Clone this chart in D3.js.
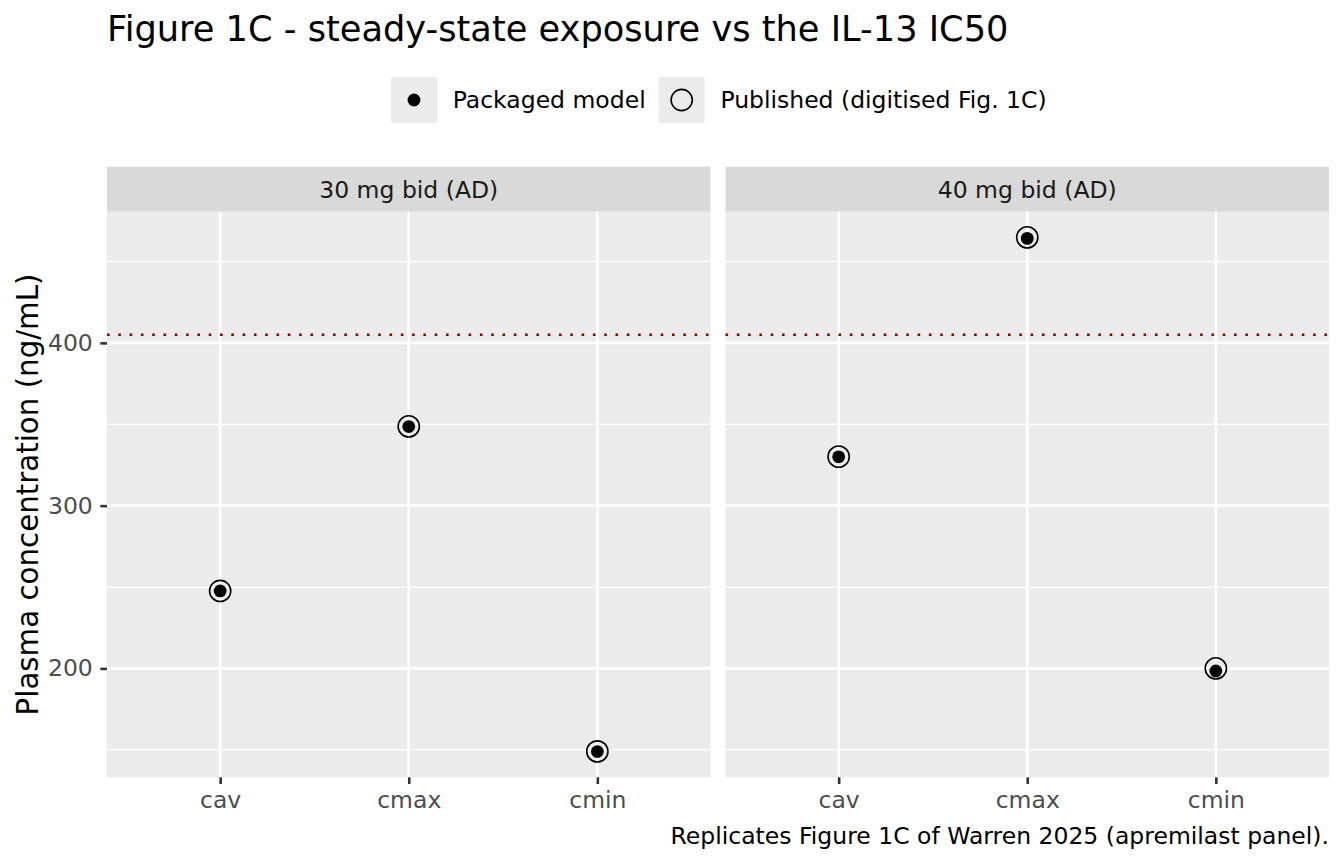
<!DOCTYPE html>
<html>
<head>
<meta charset="utf-8">
<script src="https://cdn.jsdelivr.net/npm/d3@7"></script>
<style>
  body { margin: 0; background: #fff; }
  text { font-family: "DejaVu Sans", sans-serif; }
</style>
</head>
<body>
<svg width="1344" height="864"></svg>
<script>
// Data
const metrics = ["cav", "cmax", "cmin"];
const regimens = ["30 mg bid (AD)", "40 mg bid (AD)"];
const packaged30 = [247.6, 348.6, 148.9];
const packaged40 = [330.0, 464.2, 198.4];
const published30 = [247.6, 348.7, 149.0];
const published40 = [330.1, 464.8, 200.0];
const ic50 = 405;
const yTicks = [200, 300, 400];
const yMinor = [150, 250, 350, 450];
const seriesNames = ["Packaged model", "Published (digitised Fig. 1C)"];

const svg = d3.select("svg");

// layout
const panelTop = 211.7, panelBottom = 777.3, stripTop = 166.7;
const panelX = [[107, 710.5], [725.5, 1329]];
const fs = 23.5; // axis / strip / legend text size

// y scale with ggplot-style 5% expansion
const allVals = packaged30.concat(packaged40, published30, published40);
const lo = d3.min(allVals), hi = d3.max(allVals);
const pad = (hi - lo) * 0.05;
const y = d3.scaleLinear()
    .domain([lo - pad, hi + pad])
    .range([panelBottom, panelTop]);

const packaged = [packaged30, packaged40];
const published = [published30, published40];

regimens.forEach((reg, i) => {
    const [x0, x1] = panelX[i];
    const x = d3.scalePoint().domain(metrics).range([x0, x1]).padding(0.6);
    const g = svg.append("g");

    // panel background
    g.append("rect")
        .attr("x", x0).attr("y", panelTop)
        .attr("width", x1 - x0).attr("height", panelBottom - panelTop)
        .attr("fill", "#EBEBEB");

    // minor grid
    g.selectAll(".minor").data(yMinor.filter(v => v > y.domain()[0] && v < y.domain()[1]))
        .enter().append("line")
        .attr("x1", x0).attr("x2", x1)
        .attr("y1", d => y(d)).attr("y2", d => y(d))
        .attr("stroke", "#fff").attr("stroke-width", 1.3);

    // major grid
    g.selectAll(".majorY").data(yTicks).enter().append("line")
        .attr("x1", x0).attr("x2", x1)
        .attr("y1", d => y(d)).attr("y2", d => y(d))
        .attr("stroke", "#fff").attr("stroke-width", 2.6);
    g.selectAll(".majorX").data(metrics).enter().append("line")
        .attr("x1", d => x(d)).attr("x2", d => x(d))
        .attr("y1", panelTop).attr("y2", panelBottom)
        .attr("stroke", "#fff").attr("stroke-width", 2.6);

    // IC50 reference line
    g.append("line")
        .attr("x1", x0).attr("x2", x1)
        .attr("y1", y(ic50)).attr("y2", y(ic50))
        .attr("stroke", "#8B0000").attr("stroke-width", 2.6)
        .attr("stroke-dasharray", "2.6 8.7");

    // published: open circles
    g.selectAll(".pub").data(published[i]).enter().append("circle")
        .attr("cx", (d, j) => x(metrics[j]))
        .attr("cy", d => y(d))
        .attr("r", 10.6)
        .attr("fill", "none").attr("stroke", "#000").attr("stroke-width", 1.6);

    // packaged: filled dots
    g.selectAll(".pkg").data(packaged[i]).enter().append("circle")
        .attr("cx", (d, j) => x(metrics[j]))
        .attr("cy", d => y(d))
        .attr("r", 6.4)
        .attr("fill", "#000");

    // strip
    g.append("rect")
        .attr("x", x0).attr("y", stripTop)
        .attr("width", x1 - x0).attr("height", panelTop - stripTop)
        .attr("fill", "#D9D9D9");
    g.append("text")
        .attr("x", (x0 + x1) / 2).attr("y", (stripTop + panelTop) / 2)
        .attr("dy", "0.36em")
        .attr("text-anchor", "middle")
        .attr("font-size", fs).attr("fill", "#1A1A1A")
        .text(reg);

    // x axis
    const xAxis = svg.append("g")
        .attr("transform", `translate(0,${panelBottom})`)
        .call(d3.axisBottom(x).tickSize(6.7).tickPadding(7));
    xAxis.select(".domain").remove();
    xAxis.selectAll(".tick line").attr("stroke", "#333").attr("stroke-width", 2.6);
    xAxis.selectAll(".tick text")
        .attr("font-size", fs).attr("fill", "#4D4D4D")
        .style("font-family", "DejaVu Sans");
});

// y axis (left panel only)
const yAxis = svg.append("g")
    .attr("transform", `translate(${panelX[0][0]},0)`)
    .call(d3.axisLeft(y).tickValues(yTicks).tickSize(6.7).tickPadding(7.5));
yAxis.select(".domain").remove();
yAxis.selectAll(".tick line").attr("stroke", "#333").attr("stroke-width", 2.6);
yAxis.selectAll(".tick text")
    .attr("font-size", fs).attr("fill", "#4D4D4D")
    .style("font-family", "DejaVu Sans");

// y axis title
svg.append("text")
    .attr("transform", `translate(37.5,${(panelTop + panelBottom) / 2}) rotate(-90)`)
    .attr("text-anchor", "middle")
    .attr("font-size", 29.3).attr("fill", "#000")
    .text("Plasma concentration (ng/mL)");

// title
svg.append("text")
    .attr("x", 107).attr("y", 40.7)
    .attr("font-size", 35.2).attr("fill", "#000")
    .text("Figure 1C - steady-state exposure vs the IL-13 IC50");

// legend
const keyX = [391, 658.7];
seriesNames.forEach((name, i) => {
    const lg = svg.append("g").attr("transform", `translate(${keyX[i]},77)`);
    lg.append("rect").attr("width", 46).attr("height", 46).attr("fill", "#EBEBEB");
    if (i === 0) {
        lg.append("circle").attr("cx", 23).attr("cy", 23).attr("r", 6.4).attr("fill", "#000");
    } else {
        lg.append("circle").attr("cx", 23).attr("cy", 23).attr("r", 10.6)
            .attr("fill", "none").attr("stroke", "#000").attr("stroke-width", 1.6);
    }
    lg.append("text")
        .attr("x", 61.7).attr("y", 23).attr("dy", "0.36em")
        .attr("font-size", fs).attr("fill", "#000")
        .text(name);
});

// caption
svg.append("text")
    .attr("x", 1329).attr("y", 844)
    .attr("text-anchor", "end")
    .attr("font-size", fs).attr("fill", "#000")
    .text("Replicates Figure 1C of Warren 2025 (apremilast panel).");
</script>
</body>
</html>
